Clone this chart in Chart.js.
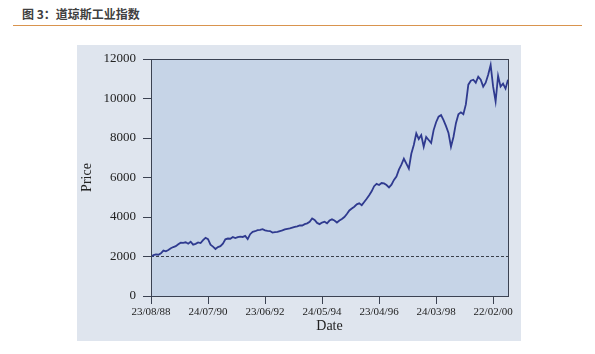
<!DOCTYPE html>
<html>
<head>
<meta charset="utf-8">
<script src="https://cdn.jsdelivr.net/npm/chart.js@4"></script>
<style>
  html, body { margin: 0; padding: 0; background: #fff; }
  body { width: 595px; height: 354px; position: relative; overflow: hidden; }
  #titulo { position: absolute; left: 22px; top: 5px; font-family: "Noto Sans CJK SC", sans-serif; font-weight: bold; font-size: 12px; color: #404040; }
  #linha { position: absolute; left: 13px; top: 25px; width: 569px; height: 0; border-top: 1.5px solid #d9944e; }
  #painel { position: absolute; left: 77px; top: 45px; width: 444px; height: 296px; background: #dfe5ee; }
  #grafico { position: absolute; left: 0; top: 0; }
</style>
</head>
<body>
<div id="titulo">图 3：道琼斯工业指数</div>
<div id="linha"></div>
<div id="painel"></div>
<canvas id="grafico" width="595" height="354"></canvas>
<script>
// fechamento mensal do indice, ago/1988 a ago/2000
var precos = [
    1990, 2070, 2110, 2090, 2160,
    2300, 2260, 2330, 2420, 2480, 2520, 2620, 2700, 2690, 2720, 2650, 2750,
    2600, 2640, 2710, 2680, 2830, 2950, 2880, 2600, 2500, 2380, 2480, 2520,
    2650, 2870, 2910, 2900, 2990, 2930, 2980, 3010, 2990, 3040, 2880, 3130,
    3250, 3280, 3330, 3350, 3380, 3320, 3300, 3290, 3210, 3230, 3250, 3290,
    3320, 3370, 3400, 3420, 3460, 3500, 3530, 3580, 3570, 3640, 3680, 3760,
    3930, 3850, 3700, 3640, 3720, 3760, 3680, 3820, 3880, 3820, 3720, 3820,
    3900, 4000, 4150, 4330, 4430, 4520, 4640, 4690, 4600, 4760, 4920, 5100,
    5300, 5560, 5680, 5620, 5720, 5700, 5620, 5500, 5640, 5880, 6050, 6400,
    6650, 6950, 6700, 6450, 7200, 7650, 8230, 7950, 8150, 7560, 8050, 7900,
    7750, 8400, 8800, 9080, 9160, 8900, 8600, 8250, 7560, 8050, 8750, 9200,
    9300, 9200, 9700, 10700, 10900, 10950, 10800, 11100, 10950, 10600, 10800, 11200,
    11700, 10600, 9850, 11150, 10600, 10750, 10500, 10950
];
var rotulosData = ['23/08/88', '24/07/90', '23/06/92', '24/05/94', '23/04/96', '24/03/98', '22/02/00'];
var mesesPorRotulo = 23;
var nivelReferencia = 2000;
var ticksPreco = [0, 2000, 4000, 6000, 8000, 10000, 12000];

var pontos = precos.map(function (v, i) { return { x: i, y: v }; });
var ultimo = precos.length - 1;

var fundoArea = {
    id: 'fundoArea',
    beforeDraw: function (chart) {
        var a = chart.chartArea;
        var ctx = chart.ctx;
        ctx.save();
        ctx.fillStyle = '#c6d4e7';
        ctx.fillRect(a.left, a.top, a.right - a.left, a.bottom - a.top);
        ctx.restore();
    },
    afterDraw: function (chart) {
        var a = chart.chartArea;
        var ctx = chart.ctx;
        ctx.save();
        ctx.strokeStyle = '#3b4252';
        ctx.lineWidth = 1;
        ctx.strokeRect(Math.round(a.left) + 0.5, Math.round(a.top) + 0.5, Math.round(a.right - a.left), Math.round(a.bottom - a.top));
        ctx.restore();
    }
};

var serif = "'Liberation Serif', 'DejaVu Serif', serif";

new Chart(document.getElementById('grafico').getContext('2d'), {
    type: 'line',
    data: {
        datasets: [
            {
                data: pontos,
                borderColor: '#2f3a8f',
                borderWidth: 1.8,
                pointRadius: 0,
                tension: 0
            },
            {
                data: [{ x: 0, y: nivelReferencia }, { x: ultimo, y: nivelReferencia }],
                borderColor: '#3a3f4a',
                borderWidth: 1,
                borderDash: [3, 2],
                pointRadius: 0
            }
        ]
    },
    options: {
        responsive: false,
        animation: false,
        devicePixelRatio: 1,
        layout: { padding: { left: 77, top: 59, right: 87, bottom: 13 } },
        plugins: { legend: { display: false }, tooltip: { enabled: false } },
        scales: {
            x: {
                type: 'linear',
                min: 0,
                max: ultimo,
                afterFit: function (s) { s.height = 45; },
                afterBuildTicks: function (s) {
                    s.ticks = rotulosData.map(function (r, i) { return { value: i * mesesPorRotulo }; });
                },
                ticks: {
                    autoSkip: false,
                    maxRotation: 0,
                    padding: 2,
                    color: '#222',
                    font: { family: serif, size: 11 },
                    callback: function (v) { return rotulosData[Math.round(v / mesesPorRotulo)]; }
                },
                grid: { drawOnChartArea: false, tickLength: 8, color: '#3b4252' },
                border: { color: '#3b4252' },
                title: { display: true, text: 'Date', color: '#222', font: { family: serif, size: 14 }, padding: { top: 0, bottom: 6 } }
            },
            y: {
                min: 0,
                max: 12000,
                afterFit: function (s) { s.width = 74; },
                afterBuildTicks: function (s) {
                    s.ticks = ticksPreco.map(function (v) { return { value: v }; });
                },
                ticks: {
                    padding: 7,
                    color: '#222',
                    font: { family: serif, size: 13 },
                    callback: function (v) { return String(v); }
                },
                grid: { drawOnChartArea: false, tickLength: 8, color: '#3b4252' },
                border: { color: '#3b4252' },
                title: { display: true, text: 'Price', color: '#222', font: { family: serif, size: 14 }, padding: { top: 2, bottom: 0 } }
            }
        }
    },
    plugins: [fundoArea]
});
</script>
</body>
</html>
